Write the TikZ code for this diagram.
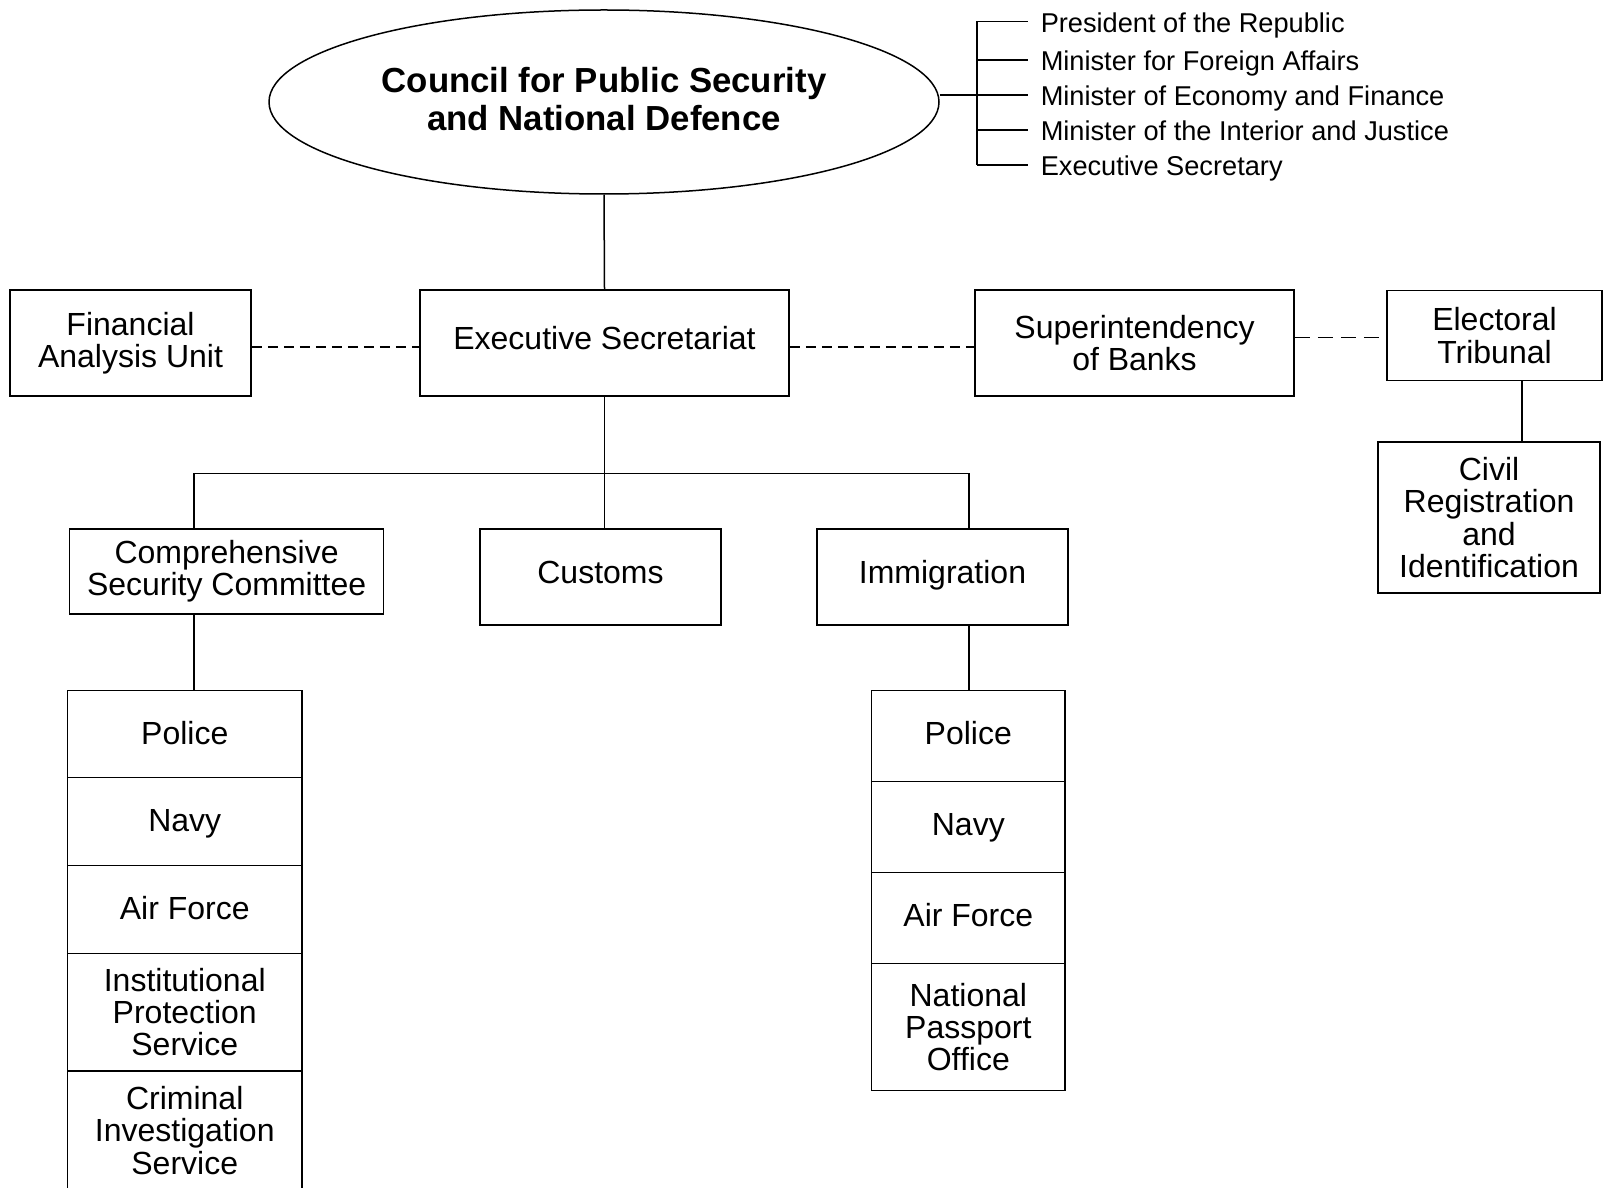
\documentclass[tikz,border=0pt]{standalone}
\usepackage{fontspec}
\setmainfont{Liberation Sans}
\usetikzlibrary{shapes.geometric}
\newcommand\bxf{\fontsize{16}{16.1}\selectfont}
\newcommand\mbf{\fontsize{13.6}{16}\selectfont}
\newcommand\cnf{\fontsize{17.4}{19}\selectfont\bfseries}
\begin{document}
\begin{tikzpicture}[x=0.5pt,y=-0.5pt, line width=0.75pt,
  box/.style={draw, rectangle, align=center, inner sep=0pt, font=\bxf},
  oneline/.style={text height=12pt, text depth=5.6pt},
  cellL/.style={text height=12pt, text depth=2pt},
  cellR/.style={text height=12pt, text depth=4pt},
  member/.style={anchor=west, inner xsep=3pt, inner ysep=0pt, font=\mbf,
                 text height=11pt, text depth=0.3pt},
  dashlink/.style={dash pattern=on 5pt off 3pt},
  dashlong/.style={dash pattern=on 7.5pt off 4pt}]
\useasboundingbox (0,0) rectangle (1604,1187);
% council
\node[draw, ellipse, inner sep=0pt, minimum width=335pt, minimum height=92pt,
      align=center, font=\cnf, text depth=3pt] (council) at (604,102)
      {Council for Public Security\\and National Defence};
% members bracket
\coordinate (bt) at (977,21.5);
\coordinate (bm) at (977,95);
\coordinate (bb) at (977,165);
\node[member] (m1) at (1034,21.5) {President of the Republic};
\node[member] (m2) at (1034,60) {Minister for Foreign Affairs};
\node[member] (m3) at (1034,95) {Minister of Economy and Finance};
\node[member] (m4) at (1034,130) {Minister of the Interior and Justice};
\node[member] (m5) at (1034,165) {Executive Secretary};
\draw (bt) -- (bb);
\draw (council.east |- bm) -- (bm);
\foreach \m in {m1,m2,m3,m4,m5} \draw (bt |- \m.west) -- ([xshift=-3pt]\m.west);
% second row
\node[box, oneline, minimum width=184.5pt, minimum height=52.75pt] (exec) at (604.5,343) {Executive Secretariat};
\node[box, minimum width=120.5pt, minimum height=52.75pt] (fau) at (130.5,343) {Financial\\Analysis Unit};
\node[box, minimum width=159.5pt, minimum height=52.75pt] (sob) at (1134.5,343) {Superintendency\\of Banks};
\node[box, minimum width=107.5pt, minimum height=45pt] (et) at (1494.5,335.5) {Electoral\\Tribunal};
\node[box, minimum width=111pt, minimum height=75.5pt] (crid) at (1489,517.5) {Civil\\Registration\\and\\Identification};
\draw (council.south) -- (exec.north);
\draw[dashlink] ([yshift=-2pt]fau.east) -- ([yshift=-2pt]exec.west);
\draw[dashlink] ([yshift=-2pt]exec.east) -- ([yshift=-2pt]sob.west);
\draw[dashlong] ([yshift=-1pt]et.west -| sob.east) -- ([yshift=-1pt]et.west);
\coordinate (etx) at (1522,0);
\draw (et.south -| etx) -- (crid.north -| etx);
% third row
\node[box, minimum width=157pt, minimum height=42.5pt] (csc) at (226.6,571.5) {Comprehensive\\Security Committee};
\node[box, oneline, minimum width=120.5pt, minimum height=48pt] (cust) at (600.5,577) {Customs};
\node[box, oneline, minimum width=125.5pt, minimum height=48pt] (imm) at (942.5,577) {Immigration};
\coordinate (lx) at (194,473.6);
\coordinate (rx) at (969,473.6);
\draw (exec.south) -- (exec.south |- cust.north);
\draw (csc.north -| lx) -- (lx) -- (rx) -- (imm.north -| rx);
% left stack
\node[box, cellL, minimum width=117.25pt, minimum height=43.5pt] (l1) at (184.75,734) {Police};
\node[box, cellL, minimum width=117.25pt, minimum height=44pt] (l2) at (184.75,821.5) {Navy};
\node[box, cellL, minimum width=117.25pt, minimum height=44pt] (l3) at (184.75,909.5) {Air Force};
\node[box, minimum width=117.25pt, minimum height=58.75pt] (l4) at (184.75,1012.25) {Institutional\\Protection\\Service};
\node[box, minimum width=117.25pt, minimum height=59.5pt] (l5) at (184.75,1130.5) {Criminal\\Investigation\\Service};
\draw (csc.south -| lx) -- (l1.north -| lx);
% right stack
\node[box, cellR, minimum width=96.7pt, minimum height=45.55pt] (r1) at (968.3,736.05) {Police};
\node[box, cellR, minimum width=96.7pt, minimum height=45.5pt] (r2) at (968.3,827.1) {Navy};
\node[box, cellR, minimum width=96.7pt, minimum height=45.55pt] (r3) at (968.3,918.15) {Air Force};
\node[box, minimum width=96.7pt, minimum height=63.4pt] (r4) at (968.3,1027.1) {National\\Passport\\Office};
\draw (imm.south -| rx) -- (r1.north -| rx);
\end{tikzpicture}
\end{document}
